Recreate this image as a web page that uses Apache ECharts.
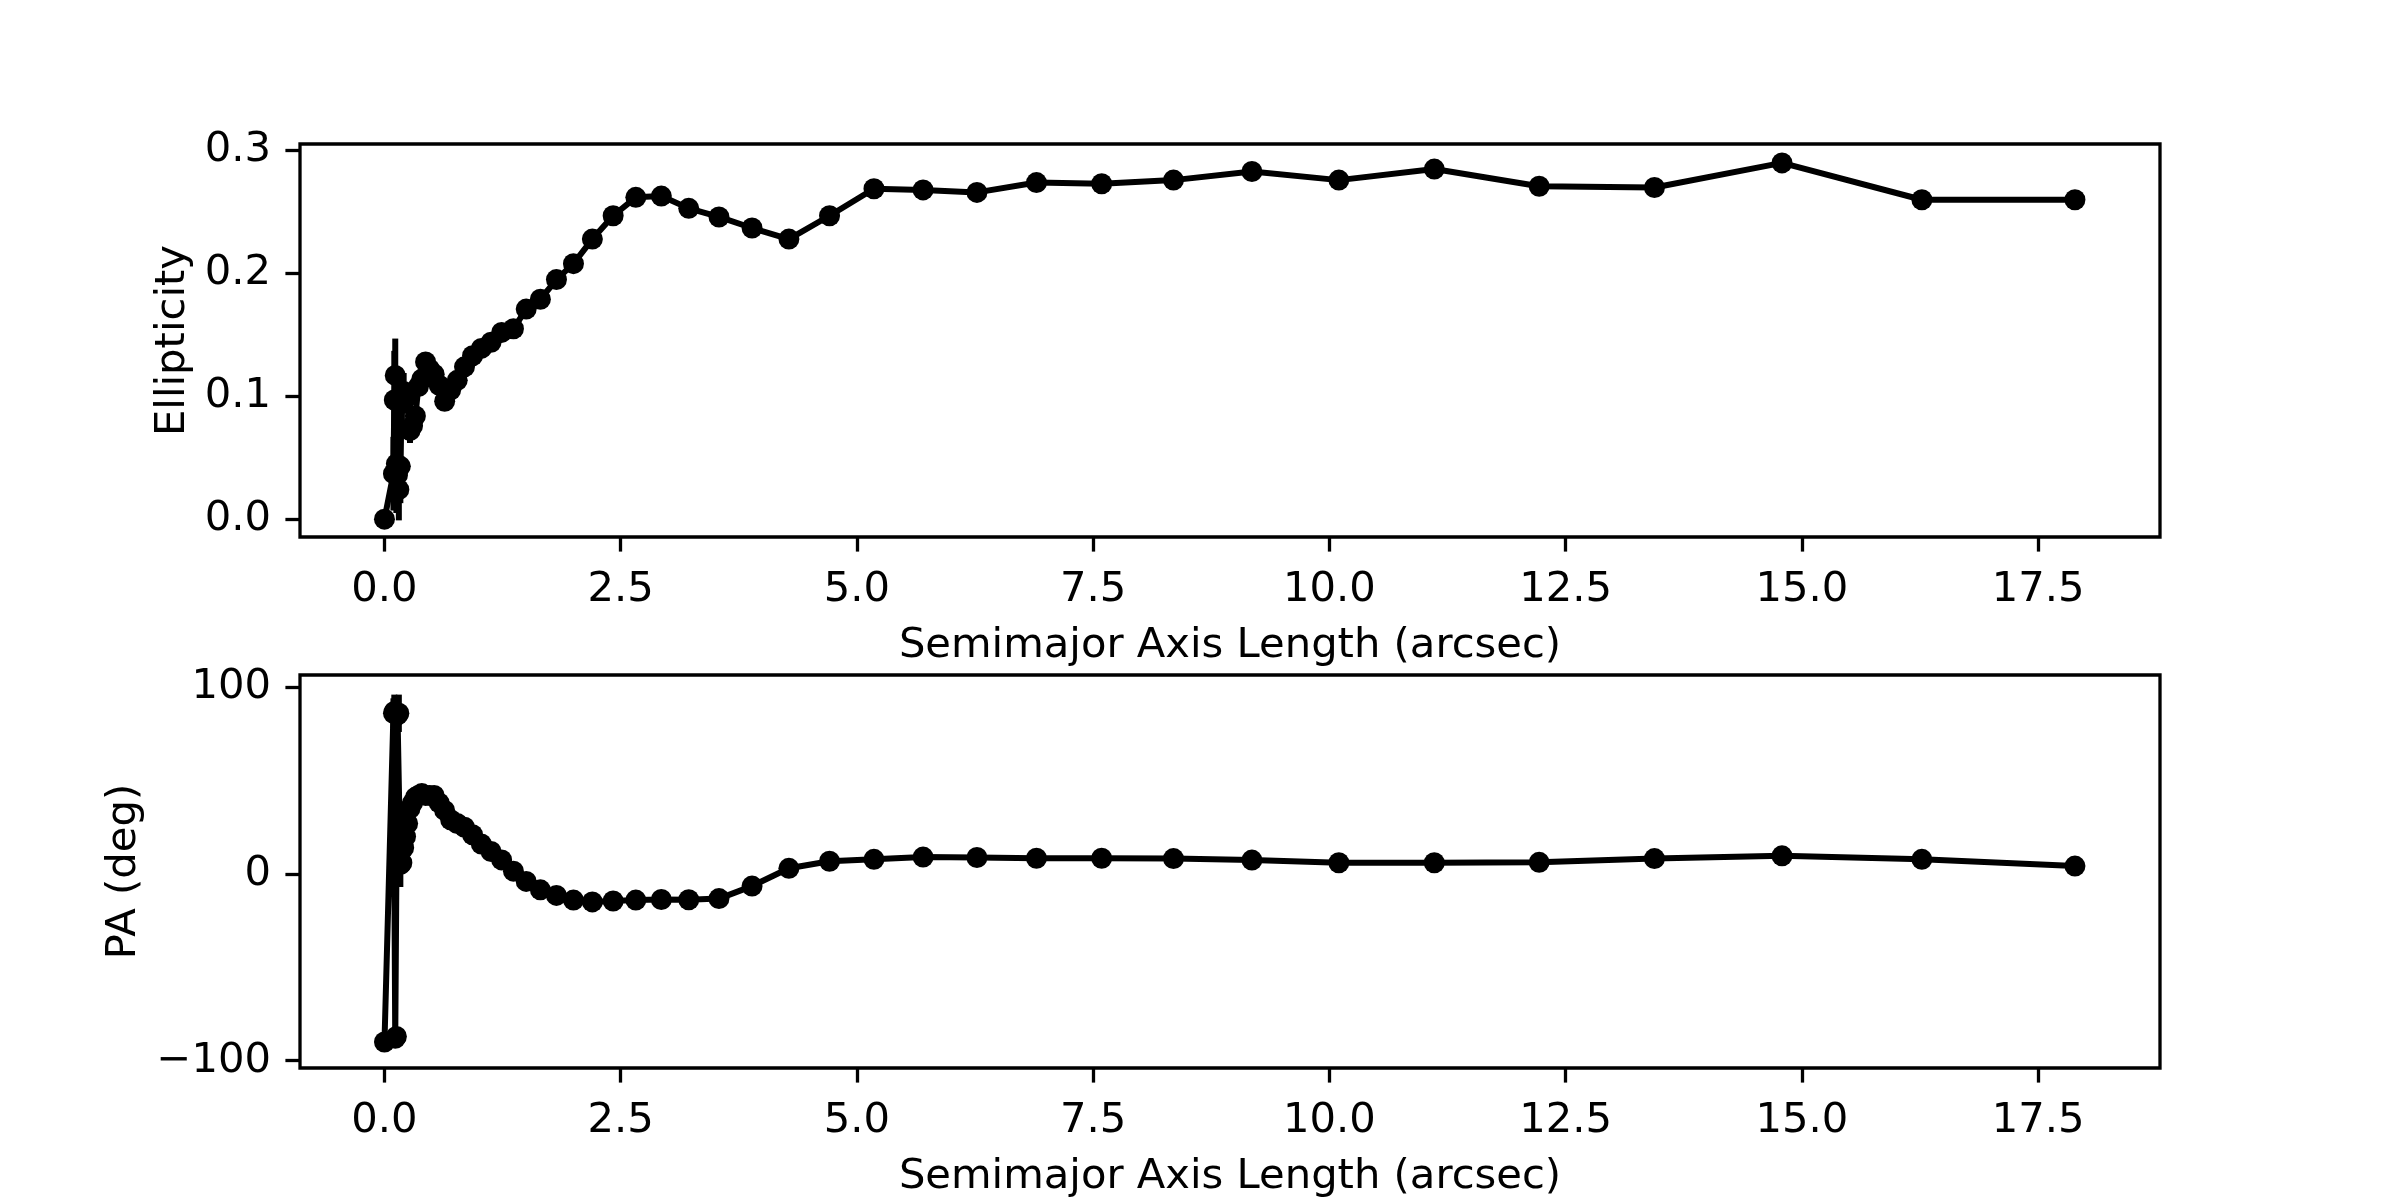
<!DOCTYPE html>
<html>
<head>
<meta charset="utf-8">
<script src="https://cdn.jsdelivr.net/npm/echarts@6/dist/echarts.min.js"></script>
<style>
    html, body { margin: 0; padding: 0; background: #fff; }
    #chart { width: 2400px; height: 1200px; }
</style>
</head>
<body>
<div id="chart"></div>
<script>

// semimajor axis length of each isophote (arcsec)
const sma = [0, 0.095, 0.104, 0.114, 0.126, 0.138, 0.152, 0.168, 0.184, 0.203,
    0.223, 0.245, 0.270, 0.297, 0.327, 0.359, 0.395, 0.435, 0.478, 0.526,
    0.579, 0.637, 0.700, 0.770, 0.847, 0.932, 1.025, 1.128, 1.240, 1.365,
    1.500, 1.650, 1.820, 2.000, 2.200, 2.420, 2.660, 2.930, 3.220, 3.540,
    3.890, 4.280, 4.710, 5.180, 5.700, 6.270, 6.900, 7.590, 8.350, 9.180,
    10.100, 11.110, 12.220, 13.440, 14.790, 16.270, 17.890];

const ellipticity = [0, 0.037, 0.097, 0.117, 0.045, 0.036, 0.024, 0.043, 0.100, 0.104,
    0.098, 0.101, 0.072, 0.076, 0.084, 0.108, 0.114, 0.128, 0.122, 0.118,
    0.109, 0.096, 0.105, 0.113, 0.124, 0.133, 0.139, 0.144, 0.152, 0.155,
    0.171, 0.179, 0.195, 0.208, 0.228, 0.247, 0.262, 0.263, 0.253, 0.246,
    0.237, 0.228, 0.247, 0.269, 0.268, 0.266, 0.274, 0.273, 0.276, 0.283,
    0.276, 0.285, 0.271, 0.270, 0.290, 0.260, 0.260];

const ellipticityErr = [0, 0.030, 0.040, 0.030, 0.040, 0.030, 0.025, 0.030, 0.020, 0.015,
    0.012, 0.010, 0.010, 0.009, 0.008, 0.007, 0.006, 0.006, 0.005, 0.005,
    0.004, 0.004, 0.004, 0.004, 0.003, 0.003, 0.003, 0.003, 0.003, 0.003,
    0.003, 0.003, 0.003, 0.003, 0.003, 0.003, 0.003, 0.003, 0.003, 0.003,
    0.003, 0.003, 0.003, 0.003, 0.003, 0.003, 0.003, 0.003, 0.003, 0.003,
    0.003, 0.003, 0.003, 0.003, 0.003, 0.003, 0.003];

// position angle (deg)
const pa = [-90, 86, 87, -88, -87, 85, 86, 5, 6, 14,
    20, 27, 35, 38, 41, 42, 43, 42, 42, 42,
    38, 34, 29, 27, 25, 21, 16, 12, 7.5, 1.5,
    -4, -8.5, -11.5, -14, -15, -14.5, -14, -13.7, -13.8, -13.2,
    -6.5, 3, 6.8, 7.8, 9.0, 8.8, 8.4, 8.4, 8.2, 7.4,
    6.0, 6.0, 6.2, 8.2, 9.7, 7.8, 4.2];

const paErr = [0, 8, 9, 4, 5, 8, 10, 12, 6, 5,
    4, 3, 2.5, 2, 2, 2, 1.5, 1.5, 1.5, 1.5,
    1.2, 1.2, 1.2, 1, 1, 1, 1, 1, 1, 1,
    1, 1, 1, 1, 1, 1, 1, 1, 1, 1,
    1, 1, 1, 1, 1, 1, 1, 1, 1, 1,
    1, 1, 1, 1, 1, 1, 1];

const xTicks = [0, 2.5, 5, 7.5, 10, 12.5, 15, 17.5];
const ellipticityTicks = [0, 0.1, 0.2, 0.3];
const paTicks = [-100, 0, 100];

const font = { fontFamily: 'DejaVu Sans', fontSize: 41.7, color: '#000' };

function pairs(xs, ys) {
    return xs.map((x, i) => [x, ys[i]]);
}

function errorRows(xs, ys, errs) {
    return xs.map((x, i) => [x, ys[i] - errs[i], ys[i] + errs[i]]);
}

function minusSign(v) {
    return v < 0 ? '\u2212' + Math.abs(v) : String(v);
}

function renderErrorBar(params, api) {
    const lo = api.coord([api.value(0), api.value(1)]);
    const hi = api.coord([api.value(0), api.value(2)]);
    return {
        type: 'line',
        shape: { x1: lo[0], y1: lo[1], x2: hi[0], y2: hi[1] },
        style: { stroke: '#000', lineWidth: 6 }
    };
}

function xAxisFor(idx) {
    return {
        type: 'value',
        gridIndex: idx,
        min: -0.894,
        max: 18.79,
        name: 'Semimajor Axis Length (arcsec)',
        nameLocation: 'middle',
        nameGap: 88,
        nameTextStyle: font,
        axisLine: { show: false, onZero: false },
        splitLine: { show: false },
        axisTick: { show: true, length: 14.6, customValues: xTicks, lineStyle: { color: '#000', width: 3.3 } },
        axisLabel: Object.assign({ margin: 32, customValues: xTicks, formatter: v => v.toFixed(1) }, font)
    };
}

function yAxisFor(idx, name, gap, min, max, ticks, fmt) {
    return {
        type: 'value',
        gridIndex: idx,
        min: min,
        max: max,
        name: name,
        nameLocation: 'middle',
        nameGap: gap,
        nameTextStyle: font,
        axisLine: { show: false, onZero: false },
        splitLine: { show: false },
        axisTick: { show: true, length: 14.6, customValues: ticks, lineStyle: { color: '#000', width: 3.3 } },
        axisLabel: Object.assign({ margin: 29, padding: [8, 0, 0, 0], customValues: ticks, formatter: fmt }, font)
    };
}

function lineSeries(idx, ys) {
    return {
        type: 'line',
        xAxisIndex: idx,
        yAxisIndex: idx,
        data: pairs(sma, ys),
        symbol: 'circle',
        symbolSize: 21,
        showAllSymbol: true,
        lineStyle: { color: '#000', width: 6 },
        itemStyle: { color: '#000' },
        z: 3
    };
}

function errorSeries(idx, ys, errs) {
    return {
        type: 'custom',
        xAxisIndex: idx,
        yAxisIndex: idx,
        data: errorRows(sma, ys, errs),
        renderItem: renderErrorBar,
        clip: true,
        z: 2
    };
}

const chart = echarts.init(document.getElementById('chart'));

const option = {
    animation: false,
    backgroundColor: '#fff',
    grid: [
        { left: 300, top: 144, width: 1860, height: 393, show: true, borderColor: '#000', borderWidth: 3.3 },
        { left: 300, top: 675, width: 1860, height: 393, show: true, borderColor: '#000', borderWidth: 3.3 }
    ],
    xAxis: [xAxisFor(0), xAxisFor(1)],
    yAxis: [
        yAxisFor(0, 'Ellipticity', 103, -0.01454, 0.3054, ellipticityTicks, v => v.toFixed(1)),
        yAxisFor(1, 'PA (deg)', 155, -103.9, 106.5, paTicks, minusSign)
    ],
    series: [
        errorSeries(0, ellipticity, ellipticityErr),
        lineSeries(0, ellipticity),
        errorSeries(1, pa, paErr),
        lineSeries(1, pa)
    ]
};

chart.setOption(option);

</script>
</body>
</html>
